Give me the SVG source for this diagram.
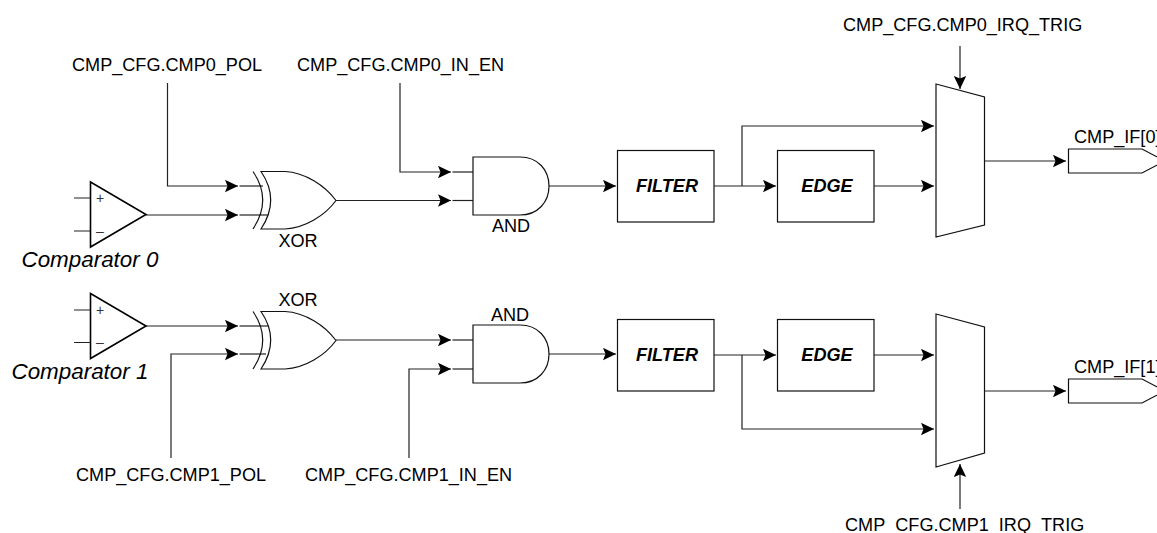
<svg xmlns="http://www.w3.org/2000/svg" width="1157" height="533" viewBox="0 0 1157 533">
<style>
text{font-family:"Liberation Sans",Arial,sans-serif;font-size:18.1px;fill:#000}
.s{fill:#fff;stroke:#111;stroke-width:1.2;stroke-linejoin:miter}
.t1{fill:none;stroke:#000;stroke-width:1.6}
.n{fill:none;stroke:#111;stroke-width:1.2}
.c{fill:none;stroke:#222;stroke-width:1.2;marker-end:url(#a)}
.l{fill:none;stroke:#222;stroke-width:1.2}
.b{font-weight:bold;font-style:italic;text-anchor:middle}
.i{font-style:italic;font-size:22.4px}
.m{text-anchor:middle}
.t{font-size:14px;text-anchor:middle;fill:#333}
</style>
<defs>
<marker id="a" markerUnits="userSpaceOnUse" markerWidth="14" markerHeight="14" refX="13" refY="6.500" orient="auto">
<path d="M0,0.300 L13,6.500 L0,12.700 L2.500,6.500 Z" fill="#000"/>
</marker>
<path id="xb" d="M261,0 L285,0 C305,1 325,14 336,29 C325,44 305,56.500 285,57.500 L261,57.500 C274,38 274,19 261,0 Z" class="s"/>
<path id="xe" d="M253,0 C266,19 266,38 253,57.500" class="n"/>
</defs>
<g id="connectors">
<path class="c" d="M167.500,83 V186 H238"/><path class="l" d="M239.500,186 H263"/>
<path class="c" d="M146,215 H238"/><path class="l" d="M239.500,215 H268"/>
<path class="c" d="M400,83 V172 H451"/><path class="l" d="M452.500,172 H473"/>
<path class="c" d="M336,200.500 H451"/><path class="l" d="M452.500,200.500 H473"/>
<path class="c" d="M549,186 H616"/>
<path class="c" d="M714,186 H776"/>
<path class="c" d="M742,186 V126 H934"/>
<path class="c" d="M874,186 H934"/>
<path class="c" d="M960,46 V89"/>
<path class="c" d="M984,161 H1066"/>
<path class="c" d="M146,326 H238"/><path class="l" d="M239.500,326 H269"/>
<path class="c" d="M171,458 V354 H238"/><path class="l" d="M239.500,354 H266"/>
<path class="c" d="M336,340 H451"/><path class="l" d="M452.500,340 H473"/>
<path class="c" d="M409,458 V369 H451"/><path class="l" d="M452.500,369 H473"/>
<path class="c" d="M549,354 H616"/>
<path class="c" d="M714,355 H776"/>
<path class="c" d="M742,355 V429 H934"/>
<path class="c" d="M874,355 H934"/>
<path class="c" d="M960,509 V464"/>
<path class="c" d="M984,391 H1066"/>
<path class="l" d="M74,198 H90 M74,231 H90 M74,310 H90 M74,342.500 H90"/>
</g>
<g id="comparator0">
<path class="t1" d="M90.500,182 L146,214.500 L90.500,247 Z"/>
<text class="t" x="100" y="203">+</text><text class="t" x="100" y="236">–</text>
<text class="i" x="21.500" y="267">Comparator 0</text>
</g>
<g id="comparator1">
<path class="t1" d="M90.500,293.500 L146,326 L90.500,358.500 Z"/>
<text class="t" x="100" y="315">+</text><text class="t" x="100" y="347">–</text>
<text class="i" x="11.500" y="378.500">Comparator 1</text>
</g>
<g id="xor0"><use href="#xb" y="171.500"/><use href="#xe" y="171.500"/><text class="m" x="298" y="247">XOR</text></g>
<g id="xor1"><use href="#xb" y="311.500"/><use href="#xe" y="311.500"/><text class="m" x="298" y="306">XOR</text></g>
<g id="and0"><path class="s" d="M473,157 H520 C538,157 549,170 549,186 C549,202 538,215 520,215 H473 Z"/><text class="m" x="511" y="232">AND</text></g>
<g id="and1"><path class="s" d="M473,325 H520 C538,325 549,338 549,354 C549,370 538,383 520,383 H473 Z"/><text class="m" x="510" y="321">AND</text></g>
<g id="filter0"><rect class="s" x="617.500" y="150.500" width="96.500" height="71.500"/><text class="b" x="667" y="192">FILTER</text></g>
<g id="edge0"><rect class="s" x="777.500" y="150.500" width="96.500" height="71.500"/><text class="b" x="827" y="192">EDGE</text></g>
<g id="filter1"><rect class="s" x="617.500" y="319.500" width="96.500" height="71.500"/><text class="b" x="667" y="361">FILTER</text></g>
<g id="edge1"><rect class="s" x="777.500" y="319.500" width="96.500" height="71.500"/><text class="b" x="827" y="361">EDGE</text></g>
<g id="mux0"><path class="s" d="M936,84 L984.500,97 V225 L936,237 Z"/></g>
<g id="mux1"><path class="s" d="M936,314 L984.500,327 V453 L936,467 Z"/></g>
<g id="out0"><path class="s" d="M1068.500,149 H1142 L1165,161 L1142,173 H1068.500 Z"/><text x="1074" y="143">CMP_IF[0]</text></g>
<g id="out1"><path class="s" d="M1068.500,379 H1142 L1165,391 L1142,403 H1068.500 Z"/><text x="1074" y="373">CMP_IF[1]</text></g>
<g id="labels">
<text x="843" y="31">CMP_CFG.CMP0_IRQ_TRIG</text>
<text x="72" y="71">CMP_CFG.CMP0_POL</text>
<text x="297" y="71">CMP_CFG.CMP0_IN_EN</text>
<text x="76" y="481">CMP_CFG.CMP1_POL</text>
<text x="305" y="481">CMP_CFG.CMP1_IN_EN</text>
<text x="845" y="531">CMP_CFG.CMP1_IRQ_TRIG</text>
</g>
</svg>
